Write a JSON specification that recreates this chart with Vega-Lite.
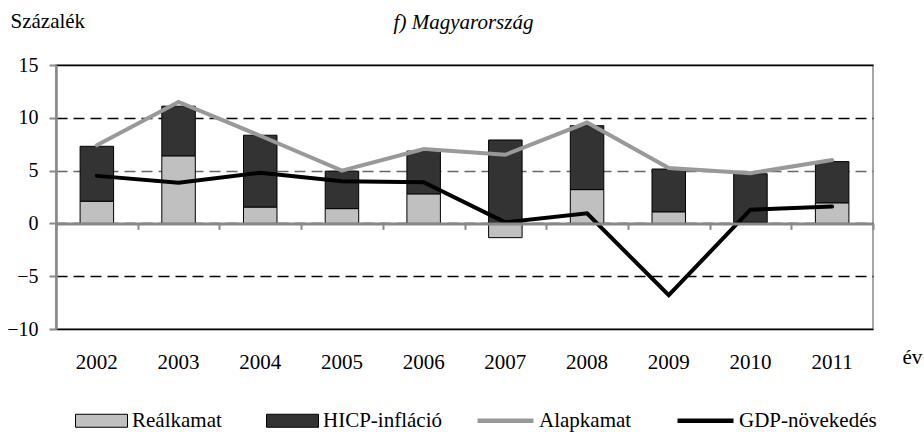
{
  "$schema": "https://vega.github.io/schema/vega-lite/v6.json",
  "width": 817,
  "height": 264,
  "autosize": {"type": "none"},
  "padding": {"left": 56, "top": 65, "right": 51, "bottom": 103},
  "background": "white",
  "config": {
    "font": "Liberation Serif",
    "view": {"stroke": "#888888", "strokeWidth": 1.5},
    "axis": {"labelFont": "Liberation Serif", "titleFont": "Liberation Serif", "labelColor": "black", "titleColor": "black", "titleFontWeight": "normal"},
    "legend": {"labelFont": "Liberation Serif", "labelFontSize": 21, "labelColor": "black", "padding": 0}
  },
  "data": {
    "values": [
      {"year": "2002", "series": "Reálkamat", "type": "bar", "value": 2.1},
      {"year": "2003", "series": "Reálkamat", "type": "bar", "value": 6.4},
      {"year": "2004", "series": "Reálkamat", "type": "bar", "value": 1.55},
      {"year": "2005", "series": "Reálkamat", "type": "bar", "value": 1.4},
      {"year": "2006", "series": "Reálkamat", "type": "bar", "value": 2.8},
      {"year": "2007", "series": "Reálkamat", "type": "bar", "value": -1.35},
      {"year": "2008", "series": "Reálkamat", "type": "bar", "value": 3.2},
      {"year": "2009", "series": "Reálkamat", "type": "bar", "value": 1.1},
      {"year": "2010", "series": "Reálkamat", "type": "bar", "value": 0.1},
      {"year": "2011", "series": "Reálkamat", "type": "bar", "value": 1.95},
      {"year": "2002", "series": "HICP-infláció", "type": "bar", "value": 5.2},
      {"year": "2003", "series": "HICP-infláció", "type": "bar", "value": 4.7},
      {"year": "2004", "series": "HICP-infláció", "type": "bar", "value": 6.8},
      {"year": "2005", "series": "HICP-infláció", "type": "bar", "value": 3.55},
      {"year": "2006", "series": "HICP-infláció", "type": "bar", "value": 4.05},
      {"year": "2007", "series": "HICP-infláció", "type": "bar", "value": 7.9},
      {"year": "2008", "series": "HICP-infláció", "type": "bar", "value": 6.05},
      {"year": "2009", "series": "HICP-infláció", "type": "bar", "value": 4.05},
      {"year": "2010", "series": "HICP-infláció", "type": "bar", "value": 4.6},
      {"year": "2011", "series": "HICP-infláció", "type": "bar", "value": 3.9},
      {"year": "2002", "series": "Alapkamat", "type": "line", "value": 7.4},
      {"year": "2003", "series": "Alapkamat", "type": "line", "value": 11.5},
      {"year": "2004", "series": "Alapkamat", "type": "line", "value": 8.3},
      {"year": "2005", "series": "Alapkamat", "type": "line", "value": 5.0},
      {"year": "2006", "series": "Alapkamat", "type": "line", "value": 7.05},
      {"year": "2007", "series": "Alapkamat", "type": "line", "value": 6.5},
      {"year": "2008", "series": "Alapkamat", "type": "line", "value": 9.55},
      {"year": "2009", "series": "Alapkamat", "type": "line", "value": 5.25},
      {"year": "2010", "series": "Alapkamat", "type": "line", "value": 4.75},
      {"year": "2011", "series": "Alapkamat", "type": "line", "value": 6.0},
      {"year": "2002", "series": "GDP-növekedés", "type": "line", "value": 4.5},
      {"year": "2003", "series": "GDP-növekedés", "type": "line", "value": 3.85},
      {"year": "2004", "series": "GDP-növekedés", "type": "line", "value": 4.8},
      {"year": "2005", "series": "GDP-növekedés", "type": "line", "value": 4.0},
      {"year": "2006", "series": "GDP-növekedés", "type": "line", "value": 3.9},
      {"year": "2007", "series": "GDP-növekedés", "type": "line", "value": 0.1},
      {"year": "2008", "series": "GDP-növekedés", "type": "line", "value": 0.95},
      {"year": "2009", "series": "GDP-növekedés", "type": "line", "value": -6.8},
      {"year": "2010", "series": "GDP-növekedés", "type": "line", "value": 1.3},
      {"year": "2011", "series": "GDP-növekedés", "type": "line", "value": 1.6}
    ]
  },
  "layer": [
    {
      "transform": [{"filter": "datum.type === 'bar'"}],
      "mark": {"type": "bar", "stroke": "black", "strokeWidth": 1, "width": {"band": 0.41}},
      "encoding": {
        "x": {
          "field": "year", "type": "ordinal",
          "scale": {"paddingInner": 0, "paddingOuter": 0},
          "axis": {
            "orient": "bottom", "title": "f) Magyarország", "titleFontStyle": "italic", "titleFontSize": 21,
            "titleX": 407, "titleY": -301, "titleAlign": "center", "titleBaseline": "alphabetic", "titleAngle": 0,
            "domain": false, "ticks": false, "labelAngle": 0, "labelFontSize": 21, "labelPadding": 22, "grid": false
          }
        },
        "y": {
          "field": "value", "type": "quantitative", "stack": "zero",
          "scale": {"domain": [-10, 15], "nice": false, "zero": false},
          "axis": {
            "title": "Százalék", "titleAngle": 0, "titleAlign": "left", "titleBaseline": "alphabetic",
            "titleX": -46, "titleY": -38, "titleFontSize": 21,
            "values": [-10, -5, 0, 5, 10, 15], "labelFontSize": 20, "labelPadding": 11,
            "tickSize": 7, "tickColor": "#888888", "tickWidth": 2, "domainColor": "#888888", "domainWidth": 2.5,
            "grid": true,
            "gridColor": {"condition": {"test": "datum.value === 5", "value": "#666666"}, "value": "black"},
            "gridDash": {"condition": {"test": "datum.value === 15 || datum.value === -10", "value": []}, "value": [11, 6]},
            "gridWidth": 1.3
          }
        },
        "fill": {
          "field": "series", "type": "nominal",
          "scale": {"domain": ["Reálkamat", "HICP-infláció"], "range": ["#c0c0c0", "#333333"]},
          "legend": {
            "orient": "none", "legendX": 19, "legendY": 329, "direction": "horizontal", "title": null,
            "symbolType": "M-1,-0.25H1V0.25H-1Z", "symbolSize": 2704, "symbolStrokeColor": "black", "symbolStrokeWidth": 1,
            "labelOffset": 4, "columnPadding": 42
          }
        },
        "order": {"field": "series", "sort": "descending"}
      }
    },
    {
      "transform": [{"filter": "datum.type === 'line'"}],
      "mark": {"type": "line", "strokeWidth": 4, "strokeCap": "round"},
      "encoding": {
        "x": {
          "field": "year", "type": "ordinal",
          "axis": {
            "orient": "bottom", "offset": -105.6, "title": "év", "titleX": 846, "titleY": 139.6,
            "titleAlign": "left", "titleBaseline": "alphabetic", "titleFontSize": 21, "titleAngle": 0,
            "labels": false, "domainColor": "#888888", "domainWidth": 3, "tickColor": "#888888", "tickWidth": 2,
            "tickSize": 6, "tickBand": "extent", "grid": false, "zindex": 1
          }
        },
        "y": {
          "field": "value", "type": "quantitative",
          "scale": {"domain": [-10, 15], "nice": false, "zero": false}
        },
        "stroke": {
          "field": "series", "type": "nominal",
          "scale": {"domain": ["Alapkamat", "GDP-növekedés"], "range": ["#999999", "#000000"]},
          "legend": {
            "orient": "none", "legendX": 419, "legendY": 325, "direction": "horizontal", "title": null,
            "symbolType": "stroke", "symbolSize": 3136, "symbolStrokeWidth": 4.5,
            "labelOffset": 3, "columnPadding": 36
          }
        }
      }
    }
  ],
  "resolve": {"axis": {"x": "independent"}}
}
